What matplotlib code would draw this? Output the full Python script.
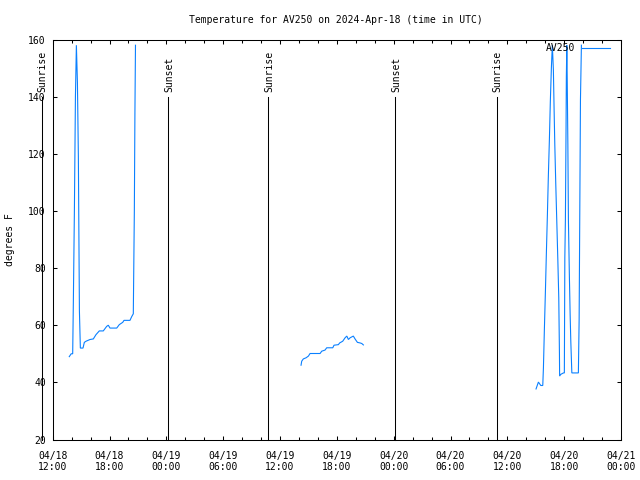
import matplotlib
matplotlib.use("Agg")
import matplotlib.pyplot as plt
import matplotlib.dates as mdates
import numpy as np
import pandas as pd

# ---------------- data ----------------
base_time = "2024-04-18 12:00"
# hours after 2024-04-18 12:00 UTC, temperature in degrees F
seg1_hours = [1.75, 1.95, 2.11, 2.18, 2.29, 2.40, 2.50, 2.61, 2.71, 2.82, 2.92, 3.20,
              3.34, 3.52, 3.94, 4.29, 4.57, 4.92, 5.34, 5.70, 5.87, 6.05, 6.76, 7.03,
              7.39, 7.53, 8.16, 8.34, 8.51, 8.62, 8.68, 8.74]
seg1_temps = [49, 50, 50, 68, 100, 140, 158, 145, 119, 65, 52, 52,
              54, 54.4, 55, 55.2, 56.7, 58, 58, 59.6, 60, 59, 59, 60.2,
              61, 61.7, 61.7, 63, 64, 100, 134, 158]

seg2_hours = [26.22, 26.29, 26.46, 26.75, 27.00, 27.17, 28.23, 28.40, 28.75, 28.93,
              29.57, 29.70, 30.16, 30.30, 30.62, 30.87, 31.05, 31.22, 31.40, 31.74,
              31.92, 32.17, 32.45, 32.63, 32.80]
seg2_temps = [46, 47.4, 48.2, 48.6, 49.2, 50.1, 50.1, 50.9, 51.3, 52.1,
              52.1, 53, 53.2, 53.8, 54.4, 55.6, 56.2, 55, 55.6, 56.2,
              55.2, 54, 53.8, 53.6, 53.1]

seg3_hours = [51.03, 51.28, 51.53, 51.74, 51.81, 51.91, 52.02, 52.12, 52.23, 52.33,
              52.44, 52.54, 52.65, 52.75, 52.86, 52.93, 53.01, 53.11, 53.22, 53.33,
              53.43, 53.50, 53.52, 53.64, 53.92, 54.02, 54.07, 54.13, 54.20, 54.23,
              54.28, 54.32, 54.39, 54.45, 54.55, 54.63, 54.70, 54.81, 55.50, 55.58,
              55.65, 55.72, 55.82]
seg3_temps = [37.7, 40.1, 38.9, 38.9, 45.1, 58.5, 71.9, 85.1, 98.8, 112.2,
              125, 138.4, 150.1, 158, 149.5, 136.7, 123.3, 109.8, 96.4, 83,
              69.6, 50.3, 42.2, 42.8, 43.3, 43.3, 83.6, 97, 129.7, 147,
              158, 146.6, 123.3, 96.4, 77.2, 63.8, 54.4, 43.3, 43.3, 62,
              100.5, 139, 158]

sun_labels = ["Sunrise", "Sunset", "Sunrise", "Sunset", "Sunrise"]
sun_times = ["2024-04-18 10:50", "2024-04-19 00:12", "2024-04-19 10:47",
             "2024-04-20 00:10", "2024-04-20 10:52"]

x_ticks = ["2024-04-18 12:00", "2024-04-18 18:00", "2024-04-19 00:00", "2024-04-19 06:00",
           "2024-04-19 12:00", "2024-04-19 18:00", "2024-04-20 00:00", "2024-04-20 06:00",
           "2024-04-20 12:00", "2024-04-20 18:00", "2024-04-21 00:00"]
y_ticks = [20, 40, 60, 80, 100, 120, 140, 160]

series_name = "AV250"
title = "Temperature for AV250 on 2024-Apr-18 (time in UTC)"
ylabel = "degrees F"

# ---------------- build ----------------
t0 = pd.Timestamp(base_time)
hours = seg1_hours + [np.nan] + seg2_hours + [np.nan] + seg3_hours
temps = seg1_temps + [np.nan] + seg2_temps + [np.nan] + seg3_temps
xnum = np.array([mdates.date2num(t0 + pd.Timedelta(hours=h)) if not np.isnan(h) else np.nan
                 for h in hours])
temps = np.array(temps, dtype=float)

FONT = "DejaVu Sans Mono"
FS = 7
plt.rcParams['font.family'] = [FONT]
plt.rcParams['font.size'] = FS

fig = plt.figure(figsize=(6.4, 4.8), dpi=100)
L, R, B, T = 52.7 / 640, 621 / 640, 1 - 439.5 / 480, 1 - 39.5 / 480
ax = fig.add_axes([L, B, R - L, T - B])

line_color = "#0a80ff"
ax.plot(xnum, temps, color=line_color, lw=0.8, label=series_name, solid_joinstyle='miter')

xmin = mdates.date2num(pd.Timestamp(x_ticks[0]))
xmax = mdates.date2num(pd.Timestamp(x_ticks[-1]))
ax.set_xlim(xmin, xmax)
ax.set_ylim(20, 160)

# sunrise / sunset markers
for lab, st in zip(sun_labels, sun_times):
    xs = mdates.date2num(pd.Timestamp(st))
    ax.plot([xs, xs], [20, 140], color="black", lw=0.75, clip_on=False)
    ax.text(xs + 0.003, 141.8, lab, rotation=90, ha='center', va='bottom',
            fontsize=FS, clip_on=False)

# ticks
xt = [mdates.date2num(pd.Timestamp(s)) for s in x_ticks]
ax.set_xticks(xt)
ax.set_xticklabels([pd.Timestamp(s).strftime("%m/%d\n%H:%M") for s in x_ticks])
ax.xaxis.set_minor_locator(mdates.HourLocator(byhour=range(0, 24, 2)))
ax.set_yticks(y_ticks)
ax.set_yticklabels([str(v) for v in y_ticks])
ax.tick_params(axis='both', which='both', direction='in', top=True, right=True,
               width=0.75, colors='black', labelsize=FS)
ax.tick_params(axis='x', which='major', length=3.2, pad=8)
ax.tick_params(axis='x', which='minor', length=2.2)
ax.tick_params(axis='y', which='major', length=3.2, pad=5)
for sp in ax.spines.values():
    sp.set_linewidth(0.75)

ax.set_ylabel(ylabel, fontsize=FS)
ax.yaxis.set_label_coords((15 - 52.7) / 568.3, 0.5)

fig.text(336 / 640, 1 - 20 / 480, title, ha='center', va='center', fontsize=FS)

ax.legend(loc='upper right', bbox_to_anchor=((610 - 52.7) / 568.3, (439.5 - 43) / 400),
          frameon=False, markerfirst=False, handlelength=2.9, handletextpad=0.7,
          borderpad=0, borderaxespad=0, fontsize=FS)

fig.savefig("out.png", dpi=100)
